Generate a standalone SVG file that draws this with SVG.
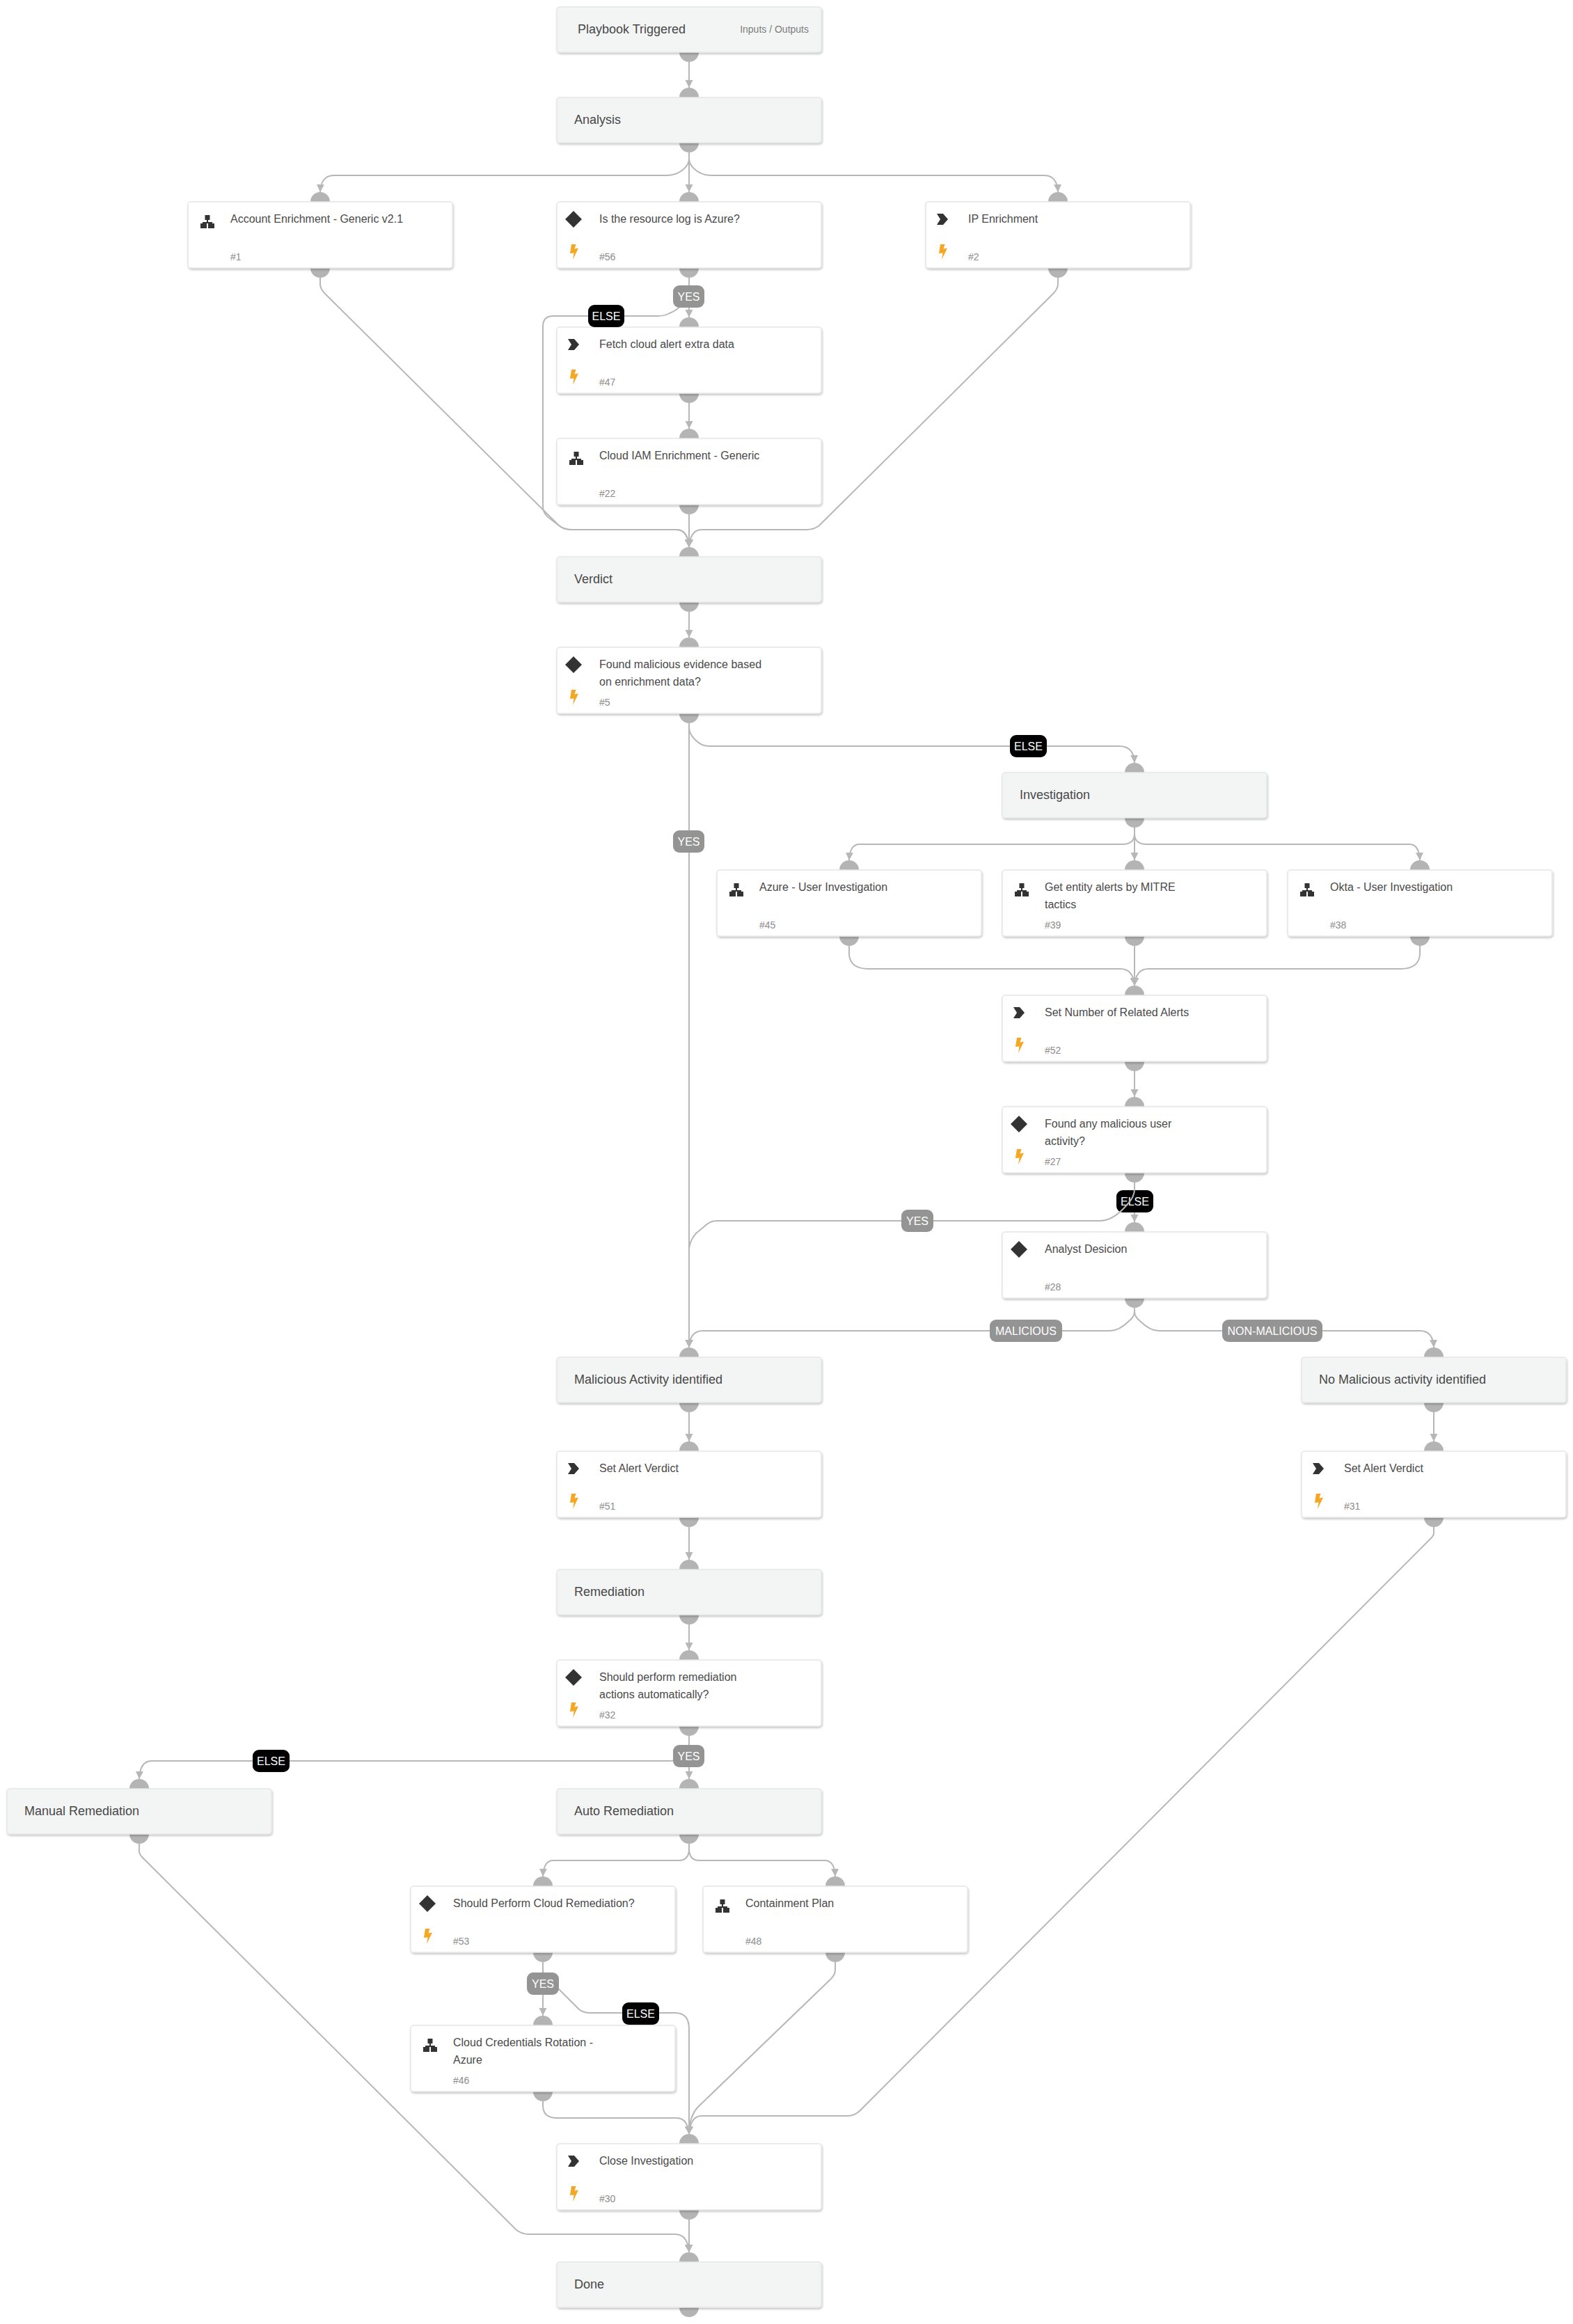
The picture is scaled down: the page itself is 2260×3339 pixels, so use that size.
<svg xmlns="http://www.w3.org/2000/svg" xmlns:xlink="http://www.w3.org/1999/xlink" width="2260" height="3339" viewBox="0 0 2260 3339">
<style>
text{font-family:"Liberation Sans",Arial,sans-serif}
.bg{fill:#fff}
.box{stroke:#e6e6e6;stroke-width:1.5;filter:url(#sh)}
.task{fill:#fff}
.title{fill:#f3f5f4}
.port{fill:#b4b4b4}
.tt{font-size:18px;fill:#484848}
.t{font-size:16px;fill:#4a4a4a}
.id{font-size:14px;fill:#8c8c8c}
.io{font-size:14px;fill:#7c7c7c;text-anchor:end}
.c{fill:none;stroke:#b7b7b7;stroke-width:2;marker-end:url(#a)}
.b{font-size:16px;fill:#fff;text-anchor:middle}
.yes{fill:#949494}
.else{fill:#000}
</style>
<defs>
<filter id="sh" x="-5%" y="-10%" width="110%" height="125%"><feDropShadow dx="1" dy="2" stdDeviation="1.5" flood-color="#000" flood-opacity=".22"/></filter>
<marker id="a" markerUnits="userSpaceOnUse" markerWidth="14" markerHeight="14" refX="11" refY="5.5" orient="auto"><path d="M0 0L11 5.5L0 11z" fill="#b7b7b7"/></marker>
<g id="dia"><path d="M12 0L24 12L12 24L0 12z" fill="#333"/></g>
<g id="chev"><path d="M0 0H9L16 8L9 16H0L5 8z" fill="#333"/></g>
<g id="net" fill="#333"><rect x="6.5" y="0" width="7" height="7"/><rect x="9" y="7" width="2" height="4"/><rect x="3" y="10" width="14" height="2"/><rect x="0" y="12" width="9" height="7"/><rect x="11" y="12" width="9" height="7"/></g>
<g id="bolt"><path d="M2 0H8.5L6.5 6.5L12 5.5L4 22L5.5 12.5L0 13z" fill="#f5a623"/></g>
</defs>
<rect class="bg" width="2260" height="3339"/>

<g id="connectors">
<path class="c" d="M990 88V126"/>
<path class="c" d="M990 219V228C990 240 975 252 958 252H480Q461 252 460 276"/>
<path class="c" d="M990 219V276"/>
<path class="c" d="M990 219V228C990 240 1005 252 1022 252H1500Q1519 252 1520 276"/>
<path class="c" d="M990 399V456"/>
<path class="c" d="M990 399V420C990 430 975 445 962 450Q955 454 945 454H795Q780 454 780 469V728Q780 738 790 745L803 755Q810 761 822 761H972Q988 761 990 786"/>
<path class="c" d="M460 399V408Q460 415 467 422L803 755Q810 761 822 761H972Q988 761 990 786"/>
<path class="c" d="M1520 399V408Q1520 415 1513 422L1177 755Q1170 761 1158 761H1008Q992 761 990 786"/>
<path class="c" d="M990 579V616"/>
<path class="c" d="M990 739V786"/>
<path class="c" d="M990 879V916"/>
<path class="c" d="M990 1039V1936"/>
<path class="c" d="M990 1039V1045Q990 1055 1000 1064Q1008 1072 1020 1072H1608Q1629 1072 1630 1096"/>
<path class="c" d="M1630 1189V1198Q1630 1213 1612 1213H1235Q1221 1213 1220 1236"/>
<path class="c" d="M1630 1189V1236"/>
<path class="c" d="M1630 1189V1198Q1630 1213 1648 1213H2025Q2039 1213 2040 1236"/>
<path class="c" d="M1220 1359V1372Q1222 1392 1248 1392H1610Q1628 1392 1630 1416"/>
<path class="c" d="M1630 1359V1416"/>
<path class="c" d="M2040 1359V1372Q2038 1392 2012 1392H1650Q1632 1392 1630 1416"/>
<path class="c" d="M1630 1539V1576"/>
<path class="c" d="M1630 1699V1756"/>
<g id="badge-else-27"><rect class="else" x="1604" y="1710" width="53" height="32" rx="9"/><text class="b" x="1630.5" y="1732">ELSE</text></g>
<path class="c" d="M1630 1699V1708Q1630 1720 1620 1730Q1600 1754 1580 1754H1030Q1020 1754 1012 1762L1000 1772Q991 1782 990 1795V1936"/>
<path class="c" d="M1630 1879V1884Q1630 1892 1622 1898Q1608 1912 1595 1912H1010Q991 1912 990 1936"/>
<path class="c" d="M1630 1879V1884Q1630 1892 1638 1898Q1652 1912 1665 1912H2040Q2059 1912 2060 1936"/>
<path class="c" d="M990 2029V2071"/>
<path class="c" d="M2060 2029V2071"/>
<path class="c" d="M990 2194V2241"/>
<path class="c" d="M990 2334V2371"/>
<path class="c" d="M990 2494V2556"/>
<path class="c" d="M990 2494V2510L975 2527Q971 2530 960 2530H218Q201 2530 200 2556"/>
<path class="c" d="M200 2649V2660Q200 2664 205 2669L742 3204Q750 3210 760 3210H970Q988 3210 990 3236"/>
<path class="c" d="M990 2649V2656Q990 2673 975 2673H795Q781 2673 780 2696"/>
<path class="c" d="M990 2649V2656Q990 2673 1005 2673H1185Q1199 2673 1200 2696"/>
<path class="c" d="M780 2819V2896"/>
<path class="c" d="M780 2819V2830Q780 2836 785 2840L832 2887Q838 2892 848 2892H970Q990 2892 990 2915V3066"/>
<path class="c" d="M780 3019V3025Q780 3043 800 3043H972Q988 3043 990 3066"/>
<path class="c" d="M1200 2819V2830Q1200 2837 1194 2843L1002 3028Q990 3042 990 3066"/>
<path class="c" d="M2060 2194V2203Q2060 2206 2056 2210L1236 3032Q1228 3040 1218 3040H1008Q992 3040 990 3066"/>
<path class="c" d="M990 3189V3236"/>
</g>

<g id="n-trigger"><circle class="port" cx="990" cy="75" r="14"/><rect class="box title" x="800" y="10" width="380" height="65" rx="4"/><text class="tt" x="830" y="48">Playbook Triggered</text><text class="io" x="1162" y="47">Inputs / Outputs</text></g>
<g id="n-analysis"><circle class="port" cx="990" cy="140" r="14"/><circle class="port" cx="990" cy="205" r="14"/><rect class="box title" x="800" y="140" width="380" height="65" rx="4"/><text class="tt" x="825" y="178">Analysis</text></g>

<g id="n-1"><circle class="port" cx="460" cy="290" r="14"/><circle class="port" cx="460" cy="385" r="14"/><rect class="box task" x="270" y="290" width="380" height="95" rx="4"/><use href="#net" x="288" y="309"/><text class="t" x="331" y="320">Account Enrichment - Generic v2.1</text><text class="id" x="331" y="374">#1</text></g>
<g id="n-56"><circle class="port" cx="990" cy="290" r="14"/><circle class="port" cx="990" cy="385" r="14"/><rect class="box task" x="800" y="290" width="380" height="95" rx="4"/><use href="#dia" x="812" y="303"/><use href="#bolt" x="819" y="351"/><text class="t" x="861" y="320">Is the resource log is Azure?</text><text class="id" x="861" y="374">#56</text></g>
<g id="n-2"><circle class="port" cx="1520" cy="290" r="14"/><circle class="port" cx="1520" cy="385" r="14"/><rect class="box task" x="1330" y="290" width="380" height="95" rx="4"/><use href="#chev" x="1346" y="307"/><use href="#bolt" x="1349" y="351"/><text class="t" x="1391" y="320">IP Enrichment</text><text class="id" x="1391" y="374">#2</text></g>

<g id="n-47"><circle class="port" cx="990" cy="470" r="14"/><circle class="port" cx="990" cy="565" r="14"/><rect class="box task" x="800" y="470" width="380" height="95" rx="4"/><use href="#chev" x="816" y="487"/><use href="#bolt" x="819" y="531"/><text class="t" x="861" y="500">Fetch cloud alert extra data</text><text class="id" x="861" y="554">#47</text></g>
<g id="n-22"><circle class="port" cx="990" cy="630" r="14"/><circle class="port" cx="990" cy="725" r="14"/><rect class="box task" x="800" y="630" width="380" height="95" rx="4"/><use href="#net" x="818" y="649"/><text class="t" x="861" y="660">Cloud IAM Enrichment - Generic</text><text class="id" x="861" y="714">#22</text></g>
<g id="n-verdict"><circle class="port" cx="990" cy="800" r="14"/><circle class="port" cx="990" cy="865" r="14"/><rect class="box title" x="800" y="800" width="380" height="65" rx="4"/><text class="tt" x="825" y="838">Verdict</text></g>
<g id="n-5"><circle class="port" cx="990" cy="930" r="14"/><circle class="port" cx="990" cy="1025" r="14"/><rect class="box task" x="800" y="930" width="380" height="95" rx="4"/><use href="#dia" x="812" y="943"/><use href="#bolt" x="819" y="991"/><text class="t" x="861" y="960">Found malicious evidence based</text><text class="t" x="861" y="985">on enrichment data?</text><text class="id" x="861" y="1014">#5</text></g>

<g id="n-investigation"><circle class="port" cx="1630" cy="1110" r="14"/><circle class="port" cx="1630" cy="1175" r="14"/><rect class="box title" x="1440" y="1110" width="380" height="65" rx="4"/><text class="tt" x="1465" y="1148">Investigation</text></g>
<g id="n-45"><circle class="port" cx="1220" cy="1250" r="14"/><circle class="port" cx="1220" cy="1345" r="14"/><rect class="box task" x="1030" y="1250" width="380" height="95" rx="4"/><use href="#net" x="1048" y="1269"/><text class="t" x="1091" y="1280">Azure - User Investigation</text><text class="id" x="1091" y="1334">#45</text></g>
<g id="n-39"><circle class="port" cx="1630" cy="1250" r="14"/><circle class="port" cx="1630" cy="1345" r="14"/><rect class="box task" x="1440" y="1250" width="380" height="95" rx="4"/><use href="#net" x="1458" y="1269"/><text class="t" x="1501" y="1280">Get entity alerts by MITRE</text><text class="t" x="1501" y="1305">tactics</text><text class="id" x="1501" y="1334">#39</text></g>
<g id="n-38"><circle class="port" cx="2040" cy="1250" r="14"/><circle class="port" cx="2040" cy="1345" r="14"/><rect class="box task" x="1850" y="1250" width="380" height="95" rx="4"/><use href="#net" x="1868" y="1269"/><text class="t" x="1911" y="1280">Okta - User Investigation</text><text class="id" x="1911" y="1334">#38</text></g>
<g id="n-52"><circle class="port" cx="1630" cy="1430" r="14"/><circle class="port" cx="1630" cy="1525" r="14"/><rect class="box task" x="1440" y="1430" width="380" height="95" rx="4"/><use href="#chev" x="1456" y="1447"/><use href="#bolt" x="1459" y="1491"/><text class="t" x="1501" y="1460">Set Number of Related Alerts</text><text class="id" x="1501" y="1514">#52</text></g>
<g id="n-27"><circle class="port" cx="1630" cy="1590" r="14"/><circle class="port" cx="1630" cy="1685" r="14"/><rect class="box task" x="1440" y="1590" width="380" height="95" rx="4"/><use href="#dia" x="1452" y="1603"/><use href="#bolt" x="1459" y="1651"/><text class="t" x="1501" y="1620">Found any malicious user</text><text class="t" x="1501" y="1645">activity?</text><text class="id" x="1501" y="1674">#27</text></g>
<g id="n-28"><circle class="port" cx="1630" cy="1770" r="14"/><circle class="port" cx="1630" cy="1865" r="14"/><rect class="box task" x="1440" y="1770" width="380" height="95" rx="4"/><use href="#dia" x="1452" y="1783"/><text class="t" x="1501" y="1800">Analyst Desicion</text><text class="id" x="1501" y="1854">#28</text></g>

<g id="n-malicious"><circle class="port" cx="990" cy="1950" r="14"/><circle class="port" cx="990" cy="2015" r="14"/><rect class="box title" x="800" y="1950" width="380" height="65" rx="4"/><text class="tt" x="825" y="1988">Malicious Activity identified</text></g>
<g id="n-nomalicious"><circle class="port" cx="2060" cy="1950" r="14"/><circle class="port" cx="2060" cy="2015" r="14"/><rect class="box title" x="1870" y="1950" width="380" height="65" rx="4"/><text class="tt" x="1895" y="1988">No Malicious activity identified</text></g>
<g id="n-51"><circle class="port" cx="990" cy="2085" r="14"/><circle class="port" cx="990" cy="2180" r="14"/><rect class="box task" x="800" y="2085" width="380" height="95" rx="4"/><use href="#chev" x="816" y="2102"/><use href="#bolt" x="819" y="2146"/><text class="t" x="861" y="2115">Set Alert Verdict</text><text class="id" x="861" y="2169">#51</text></g>
<g id="n-31"><circle class="port" cx="2060" cy="2085" r="14"/><circle class="port" cx="2060" cy="2180" r="14"/><rect class="box task" x="1870" y="2085" width="380" height="95" rx="4"/><use href="#chev" x="1886" y="2102"/><use href="#bolt" x="1889" y="2146"/><text class="t" x="1931" y="2115">Set Alert Verdict</text><text class="id" x="1931" y="2169">#31</text></g>
<g id="n-remediation"><circle class="port" cx="990" cy="2255" r="14"/><circle class="port" cx="990" cy="2320" r="14"/><rect class="box title" x="800" y="2255" width="380" height="65" rx="4"/><text class="tt" x="825" y="2293">Remediation</text></g>
<g id="n-32"><circle class="port" cx="990" cy="2385" r="14"/><circle class="port" cx="990" cy="2480" r="14"/><rect class="box task" x="800" y="2385" width="380" height="95" rx="4"/><use href="#dia" x="812" y="2398"/><use href="#bolt" x="819" y="2446"/><text class="t" x="861" y="2415">Should perform remediation</text><text class="t" x="861" y="2440">actions automatically?</text><text class="id" x="861" y="2469">#32</text></g>
<g id="n-manual"><circle class="port" cx="200" cy="2570" r="14"/><circle class="port" cx="200" cy="2635" r="14"/><rect class="box title" x="10" y="2570" width="380" height="65" rx="4"/><text class="tt" x="35" y="2608">Manual Remediation</text></g>
<g id="n-auto"><circle class="port" cx="990" cy="2570" r="14"/><circle class="port" cx="990" cy="2635" r="14"/><rect class="box title" x="800" y="2570" width="380" height="65" rx="4"/><text class="tt" x="825" y="2608">Auto Remediation</text></g>
<g id="n-53"><circle class="port" cx="780" cy="2710" r="14"/><circle class="port" cx="780" cy="2805" r="14"/><rect class="box task" x="590" y="2710" width="380" height="95" rx="4"/><use href="#dia" x="602" y="2723"/><use href="#bolt" x="609" y="2771"/><text class="t" x="651" y="2740">Should Perform Cloud Remediation?</text><text class="id" x="651" y="2794">#53</text></g>
<g id="n-48"><circle class="port" cx="1200" cy="2710" r="14"/><circle class="port" cx="1200" cy="2805" r="14"/><rect class="box task" x="1010" y="2710" width="380" height="95" rx="4"/><use href="#net" x="1028" y="2729"/><text class="t" x="1071" y="2740">Containment Plan</text><text class="id" x="1071" y="2794">#48</text></g>
<g id="n-46"><circle class="port" cx="780" cy="2910" r="14"/><circle class="port" cx="780" cy="3005" r="14"/><rect class="box task" x="590" y="2910" width="380" height="95" rx="4"/><use href="#net" x="608" y="2929"/><text class="t" x="651" y="2940">Cloud Credentials Rotation -</text><text class="t" x="651" y="2965">Azure</text><text class="id" x="651" y="2994">#46</text></g>
<g id="n-30"><circle class="port" cx="990" cy="3080" r="14"/><circle class="port" cx="990" cy="3175" r="14"/><rect class="box task" x="800" y="3080" width="380" height="95" rx="4"/><use href="#chev" x="816" y="3097"/><use href="#bolt" x="819" y="3141"/><text class="t" x="861" y="3110">Close Investigation</text><text class="id" x="861" y="3164">#30</text></g>
<g id="n-done"><circle class="port" cx="990" cy="3250" r="14"/><circle class="port" cx="990" cy="3315" r="14"/><rect class="box title" x="800" y="3250" width="380" height="65" rx="4"/><text class="tt" x="825" y="3288">Done</text></g>

<g id="labels">
<rect class="yes" x="967" y="410" width="45" height="32" rx="9"/><text class="b" x="989.5" y="432">YES</text>
<rect class="else" x="845" y="438" width="52" height="32" rx="9"/><text class="b" x="871" y="460">ELSE</text>
<rect class="yes" x="967" y="1193" width="45" height="32" rx="9"/><text class="b" x="989.5" y="1215">YES</text>
<rect class="else" x="1451" y="1056" width="53" height="32" rx="9"/><text class="b" x="1477.5" y="1078">ELSE</text>
<rect class="yes" x="1295" y="1738" width="46" height="32" rx="9"/><text class="b" x="1318" y="1760">YES</text>
<rect class="yes" x="1422" y="1896" width="104" height="32" rx="9"/><text class="b" x="1474" y="1918">MALICIOUS</text>
<rect class="yes" x="1756" y="1896" width="144" height="32" rx="9"/><text class="b" x="1828" y="1918">NON-MALICIOUS</text>
<rect class="yes" x="967" y="2507" width="45" height="32" rx="9"/><text class="b" x="989.5" y="2529">YES</text>
<rect class="else" x="363" y="2514" width="53" height="32" rx="9"/><text class="b" x="389.5" y="2536">ELSE</text>
<rect class="yes" x="757" y="2834" width="46" height="32" rx="9"/><text class="b" x="780" y="2856">YES</text>
<rect class="else" x="894" y="2877" width="53" height="32" rx="9"/><text class="b" x="920.5" y="2899">ELSE</text>
</g>
</svg>
